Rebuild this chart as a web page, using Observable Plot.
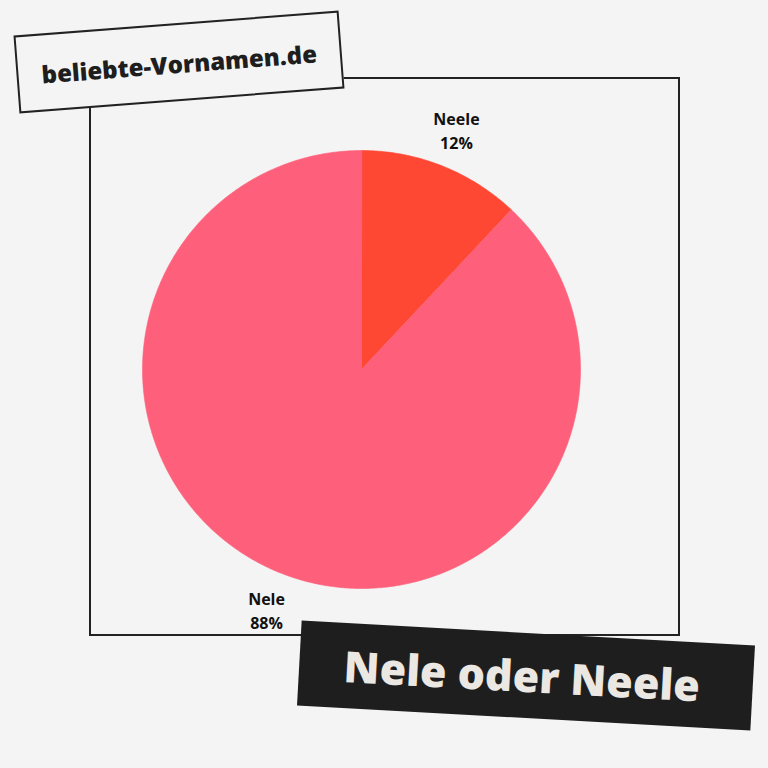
<!DOCTYPE html>
<html>
<head>
<meta charset="utf-8">
<script src="https://cdn.jsdelivr.net/npm/d3@7"></script>
<script src="https://cdn.jsdelivr.net/npm/@observablehq/plot@0.6"></script>
<style>
  html, body { margin: 0; padding: 0; background: #f4f4f4; }
  #wrap { position: relative; width: 768px; height: 768px; overflow: hidden; background: #f4f4f4; }
  #chart { position: absolute; left: 0; top: 0; }
  #frame { position: absolute; left: 89px; top: 77px; width: 587px; height: 555px; border: 2.5px solid #222; }
  #brand { position: absolute; left: 16px; top: 22.5px; width: 326px; height: 78px; box-sizing: border-box;
           border: 2.5px solid #222; background: #f4f4f4; transform: rotate(-4.4deg);
           display: flex; align-items: center; justify-content: center;
           font-family: "Open Sans", sans-serif; font-weight: 800; font-size: 24px; color: #1e1e1e; padding-top: 2px; }
  #title { position: absolute; left: 299px; top: 633px; width: 454px; height: 85px; background: #1e1e1e;
           transform: rotate(3.15deg); display: flex; align-items: center; justify-content: center;
           font-family: "Open Sans", sans-serif; font-weight: 800; font-size: 43px; color: #ebe7e3; padding-right: 8px; box-sizing: border-box; }
</style>
</head>
<body>
<div id="wrap">
  <div id="chart"></div>
  <div id="frame"></div>
  <div id="brand">beliebte-Vornamen.de</div>
  <div id="title">Nele oder Neele</div>
</div>
<script>
const names = ["Neele", "Nele"];
const shares = [12, 88];
const colors = ["#ff4834", "#fe5f7b"];

const cx = 361, cy = 369, r = 219, labelR = 258;

const pie = d3.pie().sort(null).value(d => d.share)(names.map((n, i) => ({name: n, share: shares[i]})));

const pts = [];
for (const a of pie) {
  pts.push({name: a.data.name, x: cx, y: cy});
  const steps = Math.max(2, Math.ceil((a.endAngle - a.startAngle) / (Math.PI / 360)));
  for (let k = 0; k <= steps; k++) {
    const t = a.startAngle + (a.endAngle - a.startAngle) * k / steps;
    pts.push({name: a.data.name, x: cx + r * Math.sin(t), y: cy - r * Math.cos(t)});
  }
}
const labels = pie.map(a => {
  const m = (a.startAngle + a.endAngle) / 2;
  return {text: `${a.data.name}\n${a.data.share}%`, x: cx + labelR * Math.sin(m), y: cy - labelR * Math.cos(m)};
});

const plot = Plot.plot({
  width: 768, height: 768,
  margin: 0,
  style: {background: "transparent", overflow: "visible"},
  x: {domain: [0, 768], axis: null},
  y: {domain: [768, 0], axis: null},
  color: {domain: names, range: colors},
  marks: [
    Plot.line(pts, {x: "x", y: "y", z: "name", fill: "name", stroke: "name", strokeWidth: 0.6, curve: "linear-closed"}),
    Plot.text(labels, {x: "x", y: "y", text: "text", fontSize: 16, fontWeight: 700, lineHeight: 1.5,
                       fontFamily: "Open Sans, sans-serif", fill: "#111"})
  ]
});
document.getElementById("chart").appendChild(plot);
</script>
</body>
</html>
